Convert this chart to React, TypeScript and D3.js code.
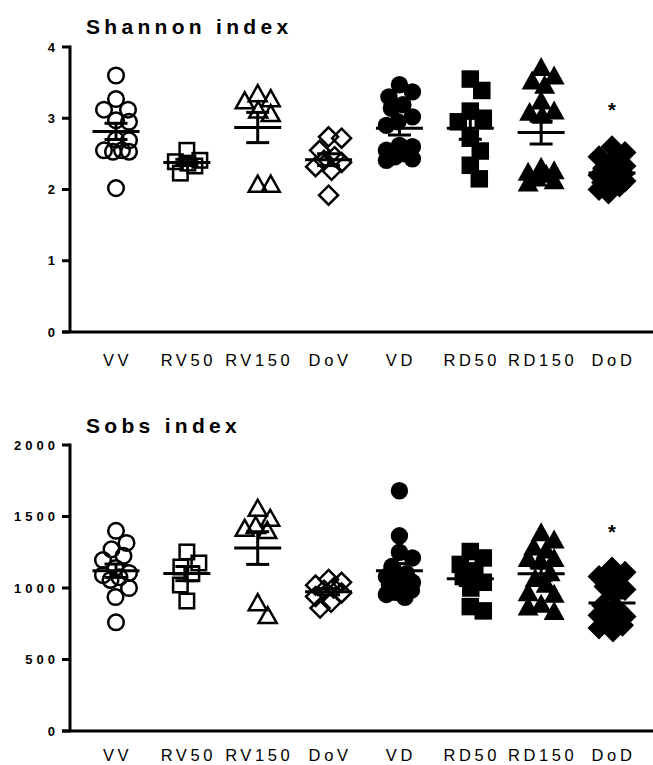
import React from "react";
import * as d3 from "d3";

const categories = ["VV", "RV50", "RV150", "DoV", "VD", "RD50", "RD150", "DoD"];
const markerKinds = ["circle", "square", "triangle", "diamond", "circle", "square", "triangle", "diamond"];
const markerFilled = [false, false, false, false, true, true, true, true];

// Shannon index values per group
const shannonVV = [3.6, 3.27, 3.12, 3.12, 2.97, 2.95, 2.7, 2.69, 2.55, 2.53, 2.53, 2.55, 2.02];
const shannonRV50 = [2.55, 2.39, 2.41, 2.23, 2.33, 2.37];
const shannonRV150 = [3.26, 3.33, 3.23, 3.05, 3.1, 2.06, 2.06];
const shannonDoV = [2.74, 2.72, 2.55, 2.46, 2.41, 2.38, 2.32, 2.27, 1.92];
const shannonVD = [3.47, 3.37, 3.3, 3.19, 3.14, 3.02, 2.95, 2.9, 2.62, 2.6, 2.55, 2.5, 2.46, 2.43, 2.41];
const shannonRD50 = [3.55, 3.39, 3.1, 3.0, 2.95, 2.72, 2.54, 2.34, 2.15];
const shannonRD150 = [3.7, 3.58, 3.51, 3.45, 3.23, 3.09, 3.07, 3.03, 2.3, 2.25, 2.23, 2.15, 2.11, 2.2, 2.08];
const shannonDoD = [2.6, 2.52, 2.46, 2.4, 2.33, 2.3, 2.25, 2.2, 2.15, 2.12, 2.08, 2.05, 2.0, 1.95, 2.1, 2.22, 2.18];

// Sobs index values per group
const sobsVV = [1400, 1315, 1270, 1225, 1195, 1140, 1105, 1090, 1075, 1056, 1000, 937, 760];
const sobsRV50 = [1252, 1175, 1147, 1100, 1021, 909];
const sobsRV150 = [1550, 1480, 1430, 1410, 1395, 890, 800];
const sobsDoV = [1060, 1040, 1020, 1000, 985, 965, 940, 900, 860];
const sobsVD = [1680, 1365, 1250, 1210, 1150, 1100, 1080, 1060, 1040, 1020, 1000, 985, 970, 955, 935];
const sobsRD50 = [1255, 1210, 1165, 1120, 1080, 1040, 1000, 870, 840];
const sobsRD150 = [1380, 1330, 1280, 1260, 1200, 1180, 1200, 1100, 1060, 1020, 960, 950, 880, 860, 830];
const sobsDoD = [1140, 1110, 1080, 1050, 1010, 990, 960, 880, 850, 830, 810, 800, 780, 760, 740, 720, 700];

const shannonTicks = [0, 1, 2, 3, 4];
const sobsTicks = [0, 500, 1000, 1500, 2000];
const significantGroups = ["DoD"];

const shannonGroups = [shannonVV, shannonRV50, shannonRV150, shannonDoV, shannonVD, shannonRD50, shannonRD150, shannonDoD];
const sobsGroups = [sobsVV, sobsRV50, sobsRV150, sobsDoV, sobsVD, sobsRD50, sobsRD150, sobsDoD];

const FONT = "'Liberation Sans', Arial, sans-serif";

// simple bounded beeswarm: closest-to-centre offset that keeps target spacing,
// otherwise the offset (within the width limit) with the largest clearance
function swarm(values: number[], y: (v: number) => number, target: number, maxW: number) {
  const pts = values.map((v) => ({ v, y: y(v), x: 0 }));
  const order = [...pts].sort((a, b) => d3.descending(a.v, b.v));
  const placed: { v: number; y: number; x: number }[] = [];
  const cands: number[] = [0];
  for (let k = 1; k * 0.5 <= maxW; k++) cands.push(k * 0.5, -k * 0.5);
  for (const p of order) {
    let bestX = 0;
    let bestClear = -1;
    let done = false;
    for (const c of cands) {
      const clear = placed.length
        ? (d3.min(placed, (q) => Math.hypot(q.x - c, q.y - p.y)) as number)
        : Infinity;
      if (clear >= target) {
        bestX = c;
        done = true;
        break;
      }
      if (clear > bestClear + 0.01) {
        bestClear = clear;
        bestX = c;
      }
    }
    p.x = bestX;
    placed.push(p);
    void done;
  }
  return pts;
}

function Marker({ kind, filled, x, y }: { kind: string; filled: boolean; x: number; y: number }) {
  const fill = filled ? "#000" : "none";
  const stroke = filled ? "none" : "#000";
  const sw = filled ? 0 : 2.5;
  if (kind === "circle") {
    const r = filled ? 8.7 : 7.8;
    return <circle cx={x} cy={y} r={r} fill={fill} stroke={stroke} strokeWidth={sw} />;
  }
  if (kind === "square") {
    const s = filled ? 17.5 : 14.5;
    return <rect x={x - s / 2} y={y - s / 2} width={s} height={s} fill={fill} stroke={stroke} strokeWidth={sw} />;
  }
  if (kind === "triangle") {
    const w = filled ? 21 : 18;
    const h = filled ? 19 : 16;
    const p = d3.path();
    p.moveTo(x, y - h * 0.6);
    p.lineTo(x + w / 2, y + h * 0.4);
    p.lineTo(x - w / 2, y + h * 0.4);
    p.closePath();
    return <path d={p.toString()} fill={fill} stroke={stroke} strokeWidth={sw} strokeLinejoin="miter" />;
  }
  const d = filled ? 11.5 : 9.5;
  const p = d3.path();
  p.moveTo(x, y - d);
  p.lineTo(x + d, y);
  p.lineTo(x, y + d);
  p.lineTo(x - d, y);
  p.closePath();
  return <path d={p.toString()} fill={fill} stroke={stroke} strokeWidth={sw} />;
}

function Panel({
  title,
  groups,
  ticks,
  domainMax,
  yTop,
  yBottom,
  titleY,
  labelY,
  starY,
}: {
  title: string;
  groups: number[][];
  ticks: number[];
  domainMax: number;
  yTop: number;
  yBottom: number;
  titleY: number;
  labelY: number;
  starY: number;
}) {
  const axisX = 70;
  const y = d3.scaleLinear().domain([0, domainMax]).range([yBottom, yTop]);
  const x = d3.scalePoint<string>().domain(categories).range([116, 612]);
  return (
    <g>
      <text x={86} y={titleY} fontFamily={FONT} fontWeight="bold" fontSize={21} letterSpacing={4.3} fill="#000">
        {title}
      </text>
      <line x1={axisX} x2={axisX} y1={yTop - 1.5} y2={yBottom} stroke="#000" strokeWidth={3} />
      <line x1={axisX - 8} x2={653} y1={yBottom} y2={yBottom} stroke="#000" strokeWidth={3} />
      {ticks.map((t) => (
        <g key={t}>
          <line x1={axisX - 8} x2={axisX} y1={y(t)} y2={y(t)} stroke="#000" strokeWidth={3} />
          <text
            x={59}
            y={y(t) + 4.7}
            textAnchor="end"
            fontFamily={FONT}
            fontWeight="bold"
            fontSize={13}
            letterSpacing={4}
            fill="#000"
          >
            {t}
          </text>
        </g>
      ))}
      {categories.map((c) => (
        <text
          key={c}
          x={(x(c) as number) + 1.5}
          y={labelY}
          textAnchor="middle"
          fontFamily={FONT}
          fontSize={16.5}
          letterSpacing={3.6}
          fill="#000"
        >
          {c}
        </text>
      ))}
      {categories.map((c, i) => {
        const cx = x(c) as number;
        const vals = groups[i];
        const pts = swarm(vals, y, 16, 13);
        const mean = d3.mean(vals) as number;
        const sem = (d3.deviation(vals) as number) / Math.sqrt(vals.length);
        return (
          <g key={c}>
            {pts.map((p, j) => (
              <Marker key={j} kind={markerKinds[i]} filled={markerFilled[i]} x={cx + p.x} y={p.y} />
            ))}
            <line x1={cx} x2={cx} y1={y(mean + sem)} y2={y(mean - sem)} stroke="#000" strokeWidth={3} />
            <line x1={cx - 11.5} x2={cx + 11.5} y1={y(mean + sem)} y2={y(mean + sem)} stroke="#000" strokeWidth={3} />
            <line x1={cx - 11.5} x2={cx + 11.5} y1={y(mean - sem)} y2={y(mean - sem)} stroke="#000" strokeWidth={3} />
            <line x1={cx - 23.5} x2={cx + 23.5} y1={y(mean)} y2={y(mean)} stroke="#000" strokeWidth={3} />
            {significantGroups.includes(c) && (
              <text x={cx} y={starY} textAnchor="middle" fontFamily={FONT} fontWeight="bold" fontSize={20} fill="#000">
                *
              </text>
            )}
          </g>
        );
      })}
    </g>
  );
}

export default function App() {
  return (
    <svg width={653} height={765} style={{ position: "absolute", left: 0, top: 0, background: "#fff" }}>
      <rect width={653} height={765} fill="#fff" />
      <Panel
        title="Shannon index"
        groups={shannonGroups}
        ticks={shannonTicks}
        domainMax={4}
        yTop={47}
        yBottom={332}
        titleY={34}
        labelY={366}
        starY={117}
      />
      <Panel
        title="Sobs index"
        groups={sobsGroups}
        ticks={sobsTicks}
        domainMax={2000}
        yTop={445}
        yBottom={731}
        titleY={433}
        labelY={761}
        starY={539}
      />
    </svg>
  );
}
